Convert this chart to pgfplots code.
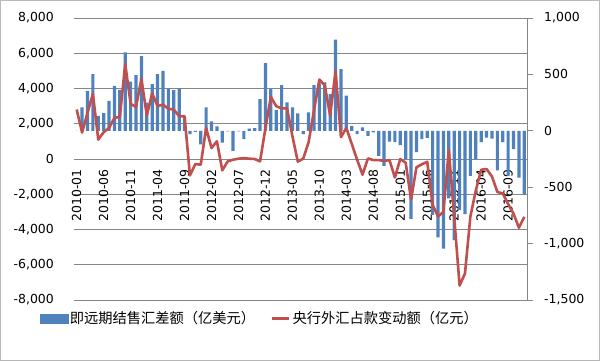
\documentclass[border=0pt]{standalone}
\usepackage{pgfplots}
\pgfplotsset{compat=1.18}
\usepackage{pgfplotstable}
\usepackage{fontspec}
\setmainfont{DejaVu Sans}
\newfontfamily\cjk{Noto Sans CJK SC}
\definecolor{barblue}{RGB}{79,129,189}
\definecolor{linered}{RGB}{192,80,77}
\definecolor{gridgray}{RGB}{134,134,134}

\pgfplotstableread{
m bar line
0 0 2806
1 207 1500
2 355 2617
3 503 3700
4 133 1100
5 157 1517
6 266 1762
7 399 2331
8 362 2390
9 695 5400
10 435 3128
11 494 2958
12 662 4540
13 250 2470
14 414 3720
15 503 2996
16 531 3090
17 376 2845
18 361 2807
19 376 2428
20 120 2428
21 -30 -930
22 -10 -286
23 -120 -324
24 207 1762
25 83 624
26 40 1004
27 -104 -645
28 -5 -133
29 -177 -40
30 -5 17
31 -74 55
32 20 17
33 24 0
34 281 -133
35 600 1750
36 370 3525
37 186 2995
38 405 2870
39 251 2870
40 207 1300
41 154 -150
42 -30 20
43 163 950
44 405 2750
45 420 4510
46 430 4170
47 325 2470
48 808 4985
49 547 1240
50 311 1763
51 44 860
52 -30 -40
53 30 -892
54 -44 30
55 -15 -60
56 -222 -60
57 -311 -110
58 -95 -60
59 -100 -1050
60 -127 0
61 -250 -210
62 -780 -2300
63 -190 -470
64 -74 -300
65 -62 -160
66 -745 -2600
67 -945 -3265
68 -1045 -3000
69 -600 529
70 -970 -3300
71 -700 -7180
72 -738 -6490
73 -400 -3260
74 -250 -1800
75 -100 -608
76 -60 -570
77 -70 -990
78 -350 -1870
79 -100 -1955
80 -400 -2550
81 -163 -3100
82 -414 -3900
83 -562 -3280
}\data

\pgfplotsset{
  common/.style={
    at={(74bp,61bp)}, anchor=south west, scale only axis,
    width=453bp, height=282bp,
    xmin=-0.5, xmax=83.5,
    tick label style={font=\fontsize{12.5}{14}\selectfont},
    /pgf/number format/.cd, 1000 sep={,}, assume math mode=true,
  },
}

\begin{document}
\begin{tikzpicture}[x=1bp,y=1bp]
\path[use as bounding box] (0,0) rectangle (600,361);
\draw[gray!55, line width=0.8bp] (0.5,0.5) rectangle (599.5,360.5);

% axis A: grid, left ticks, category labels
\begin{axis}[common,
  ymin=-8000, ymax=8000,
  ytick={-8000,-6000,...,8000},
  ymajorgrids, grid style={gridgray, line width=0.75bp},
  axis y line*=left, y axis line style={draw=none},
  axis x line*=middle, x axis line style={gridgray, line width=0.75bp},
  hide obscured x ticks=false, hide obscured y ticks=false,
  major tick length=0pt,
  xtick={0,5,...,80},
  xticklabels={2010-01,2010-06,2010-11,2011-04,2011-09,2012-02,2012-07,2012-12,2013-05,2013-10,2014-03,2014-08,2015-01,2015-06,2015-11,2016-04,2016-09},
  xticklabel style={rotate=90, anchor=east, inner sep=1bp},
  xticklabel shift=9bp,
  yticklabel style={inner sep=2bp},
  yticklabel shift=18bp,
]
\addplot[draw=none] coordinates {(0,0)};
\end{axis}

% axis B: bars on right scale
\begin{axis}[common,
  ymin=-1500, ymax=1000,
  ytick={-1500,-1000,...,1000},
  axis y line*=right, axis x line=none,
  y axis line style={gridgray, line width=0.75bp},
  ytick style={gridgray, line width=0.75bp},
  major tick length=6bp, tick align=outside,
  yticklabel style={inner sep=2bp},
  yticklabel shift=9bp,
]
\addplot[ybar, bar width=3.2bp, fill=barblue, draw=none] table[x=m,y=bar]{\data};
\end{axis}

% axis C: line on left scale + legend
\begin{axis}[common,
  hide axis,
  ymin=-8000, ymax=8000,
  legend style={at={(0.41,-0.0656)}, anchor=center, draw=none, fill=none,
    font=\cjk\fontsize{14.3}{16}\selectfont, inner sep=0pt,
    /tikz/every even column/.append style={column sep=14bp}},
  legend columns=2,
  legend cell align=left,
]
\addlegendimage{legend image code/.code={\fill[barblue] (0bp,-4.5bp) rectangle (28bp,4.5bp);}}
\addlegendentry{即远期结售汇差额（亿美元）}
\addplot[linered, line width=2.6bp, line join=round] table[x=m,y=line]{\data};
\addlegendentry{央行外汇占款变动额（亿元）}
\end{axis}
\end{tikzpicture}
\end{document}
